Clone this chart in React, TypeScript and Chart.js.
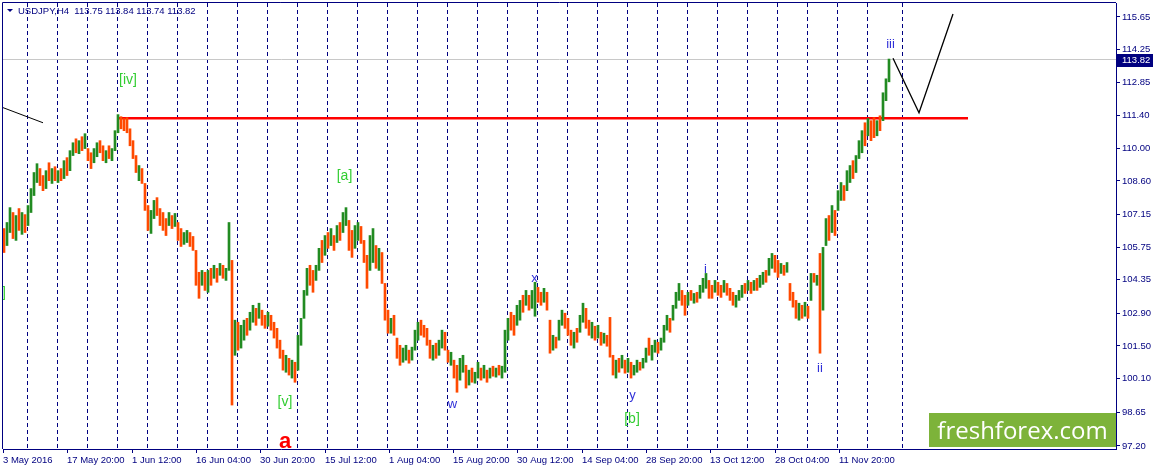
import React, { useEffect, useRef } from "react";
import { Chart, registerables } from "chart.js";

Chart.register(...registerables);

// ---------- data ----------
const SYMBOL = "USDJPY,H4";
const LAST_OHLC = [113.75, 113.84, 113.74, 113.82];
const LAST_PRICE = 113.82;
const BARS_PER_CANDLE = 3; // each drawn candle groups 3 H4 bars

const candleHigh = [
  106.55, 106.81, 107.45, 107.24, 107.11, 107.41, 107.24, 107.15, 107.54, 108.27,
  108.96, 109.34, 109.13, 108.83, 109.04, 109.38, 109.13, 109.21, 109.04, 109.13,
  109.47, 109.6, 109.9, 110.24, 110.41, 110.33, 110.5, 110.63, 109.99, 109.81,
  109.99, 110.24, 110.33, 110.11, 109.9, 110.11, 109.99, 110.76, 111.45, 111.36,
  111.28, 111.32, 110.84, 110.33, 109.69, 109.26, 109.13, 108.49, 107.54, 107.33,
  107.76, 107.88, 107.41, 107.24, 106.98, 107.24, 107.11, 107.2, 106.81, 106.55,
  106.38, 106.47, 106.38, 106.21, 105.61, 104.67, 104.75, 104.67, 104.75, 104.84,
  104.97, 104.84, 105.05, 104.97, 104.84, 106.81, 105.18, 102.61, 102.52, 102.39,
  102.61, 102.69, 102.95, 103.25, 103.12, 103.34, 103.04, 102.82, 102.95, 102.82,
  102.52, 102.26, 101.75, 101.32, 101.1, 100.97, 100.89, 100.8, 101.96, 102.69,
  103.89, 104.84, 104.97, 104.75, 104.97, 105.7, 106.04, 106.25, 106.38, 106.55,
  106.25, 106.68, 106.81, 107.24, 107.45, 106.9, 106.47, 106.68, 106.81, 106.64,
  106.04, 105.4, 106.25, 106.55, 105.82, 105.7, 105.52, 104.19, 103.04, 102.69,
  102.82, 101.84, 101.53, 101.41, 101.53, 101.32, 101.45, 102.18, 102.52, 102.61,
  102.39, 102.26, 101.75, 101.53, 101.62, 101.75, 102.18, 102.09, 101.32, 101.23,
  100.89, 100.67, 100.97, 101.1, 100.67, 100.46, 100.55, 100.37, 100.8, 100.55,
  100.67, 100.46, 100.55, 100.63, 100.55, 100.67, 100.63, 102.18, 102.69, 102.95,
  102.82, 103.25, 103.46, 103.68, 103.89, 103.68, 103.89, 104.24, 104.02, 103.81,
  103.98, 103.81, 102.61, 101.96, 101.88, 102.61, 103.04, 102.91, 102.69, 102.18,
  102.09, 102.26, 102.82, 103.34, 103.12, 102.61, 102.52, 102.35, 102.39, 102.09,
  102.05, 101.96, 102.73, 101.1, 100.89, 100.97, 101.1, 100.89, 100.97, 100.8,
  100.67, 100.89, 100.8, 100.97, 101.41, 101.84, 101.53, 101.75, 101.66, 101.84,
  102.39, 102.82, 102.69, 103.25, 103.81, 104.19, 103.89, 103.68, 103.81, 103.89,
  103.76, 103.81, 104.11, 104.41, 104.62, 104.32, 104.11, 104.32, 104.24, 104.11,
  104.32, 104.19, 103.98, 103.81, 103.68, 103.89, 104.11, 104.19, 104.32, 104.24,
  104.32, 104.41, 104.54, 104.67, 104.75, 105.27, 105.48, 105.4, 105.18, 105.05,
  104.97, 105.09, 104.19, 103.81, 103.46, 103.34, 103.25, 103.38, 103.21, 104.62,
  104.62, 104.54, 105.48, 105.74, 106.98, 107.11, 107.54, 107.33, 108.18, 108.53,
  108.4, 109.04, 109.26, 109.47, 109.69, 110.33, 110.76, 111.1, 111.28, 111.19,
  111.32, 111.19, 111.4, 112.39, 112.99, 113.84,
];

const candleLow = [
  105.52, 105.82, 106.38, 106.12, 106.04, 106.47, 106.3, 106.38, 106.68, 107.24,
  107.97, 108.53, 108.4, 108.18, 108.27, 108.61, 108.49, 108.61, 108.53, 108.61,
  108.7, 108.83, 109.04, 109.69, 109.81, 109.77, 109.9, 109.99, 109.47, 109.13,
  109.38, 109.64, 109.81, 109.47, 109.38, 109.56, 109.47, 109.9, 110.67, 110.84,
  110.76, 110.67, 110.11, 109.56, 108.96, 108.61, 108.49, 107.33, 106.47, 106.34,
  106.98, 107.11, 106.68, 106.47, 106.25, 106.68, 106.55, 106.64, 106.04, 105.78,
  105.87, 105.95, 105.78, 105.61, 104.11, 103.55, 104.11, 103.89, 103.81, 104.11,
  104.41, 104.24, 104.54, 104.41, 104.32, 104.75, 98.96, 101.1, 101.32, 101.41,
  101.75, 101.96, 102.18, 102.52, 102.39, 102.69, 102.39, 102.26, 102.35, 102.18,
  101.84, 101.41, 100.97, 100.46, 100.37, 100.25, 100.12, 99.94, 100.46, 101.53,
  102.69, 103.68, 104.11, 103.81, 104.32, 104.75, 105.09, 105.4, 105.7, 105.82,
  105.61, 105.95, 106.04, 106.38, 106.68, 105.61, 105.31, 105.7, 106.04, 105.91,
  105.09, 103.98, 104.75, 105.09, 104.84, 104.75, 104.19, 102.61, 102.05, 102.05,
  101.96, 100.97, 100.67, 100.8, 100.89, 100.76, 100.89, 101.32, 101.75, 101.96,
  101.88, 101.53, 100.97, 100.89, 100.97, 101.1, 101.41, 101.32, 100.8, 100.67,
  100.12, 99.51, 100.03, 100.37, 99.69, 99.82, 99.94, 99.9, 100.12, 100.03,
  100.12, 99.94, 100.12, 100.2, 100.16, 100.25, 100.12, 100.37, 101.75, 102.18,
  101.96, 102.39, 102.61, 102.95, 103.25, 103.04, 103.12, 102.78, 103.38, 103.25,
  103.38, 103.04, 101.19, 101.32, 101.41, 101.75, 102.39, 102.26, 101.96, 101.53,
  101.41, 101.66, 102.09, 102.52, 102.26, 101.96, 101.84, 101.75, 101.84, 101.53,
  101.62, 101.49, 101.02, 100.25, 100.12, 100.37, 100.55, 100.33, 100.37, 100.12,
  100.25, 100.37, 100.46, 100.55, 100.8, 101.1, 100.89, 101.23, 101.19, 101.32,
  101.66, 102.18, 102.09, 102.61, 103.12, 103.46, 103.25, 102.82, 103.25, 103.46,
  103.34, 103.38, 103.55, 103.81, 103.98, 103.55, 103.55, 103.81, 103.68, 103.59,
  103.81, 103.68, 103.46, 103.25, 103.17, 103.46, 103.59, 103.76, 103.89, 103.76,
  103.89, 103.89, 104.02, 104.15, 104.24, 104.54, 104.84, 104.67, 104.45, 104.62,
  104.54, 104.67, 103.46, 103.17, 102.69, 102.61, 102.69, 102.78, 102.69, 103.46,
  104.24, 104.11, 101.19, 103.04, 105.82, 106.04, 106.38, 106.25, 107.33, 107.76,
  107.76, 108.18, 108.53, 108.7, 108.96, 109.56, 109.81, 110.11, 110.54, 110.33,
  110.46, 110.54, 110.76, 111.19, 112.05, 112.86,
];

// G = bullish (green), O = bearish (orange)
const candleDir =
  "OGGOGOGOGG" + "GGOOGOGOGO" + "GOGGOGOGOO" + "GGOOGOGGGO" + "OOOOOGOOOG" +
  "GOOOOGOGOO" + "GGOOOOGOGO" + "GOGOGGOGOG" + "GOGGOGOOGO" + "OOOOGOGOGG" +
  "GGOOGGOGOG" + "OGOGGOOGGO" + "OOGGOGOOOG" + "OOOGGOGGGO" + "OOOGOGGOOG" +
  "OOGGOGOGGO" + "GOGOGOGGGO" + "OGGOGOGGOO" + "GOOGOGGOOO" + "GOGGOOGOGO" +
  "GOOOGOGOGO" + "GGOGGOGGOG" + "GGOGGGOOGO" + "GOGGGOOGOO" + "GOOOGGGOGO" +
  "GOGGOGGOOG" + "OGOOOGOGOG" + "OGOGGOGOGG" + "OGGOGGGOGO" + "OGOGGG";

const yTicks = [115.65, 114.25, 112.85, 111.4, 110.0, 108.6, 107.15, 105.75, 104.35, 102.9, 101.5, 100.1, 98.65, 97.2];
const xTickPos = [0, 64, 129, 193, 257, 322, 386, 450, 514, 579, 643, 707, 772, 836];
const xTickLabels = [
  "3 May 2016", "17 May 20:00", "1 Jun 12:00", "16 Jun 04:00", "30 Jun 20:00", "15 Jul 12:00",
  "1 Aug 04:00", "15 Aug 20:00", "30 Aug 12:00", "14 Sep 04:00", "28 Sep 20:00", "13 Oct 12:00",
  "28 Oct 04:00", "11 Nov 20:00",
];
const weekSeparators = [
  24, 54, 84, 114, 144, 174, 204, 234, 264, 294, 324, 354, 384, 414, 444, 474, 504, 534,
  564, 594, 624, 654, 684, 714, 744, 774, 804, 834, 864, 899,
];

const resistanceLine = [{ x: 116, y: 111.29 }, { x: 965, y: 111.29 }];
const projectionLine = [{ x: 890, y: 113.87 }, { x: 916, y: 111.53 }, { x: 950, y: 115.78 }];
const oldTrendLine = [{ x: 0, y: 111.75 }, { x: 40, y: 111.1 }];

const waveLabels = [
  { text: "[iv]", x: 125, y: 112.75, color: "#32cd32", size: 14, bold: false, align: "center" },
  { text: "[a]", x: 341.5, y: 108.64, color: "#32cd32", size: 14, bold: false, align: "center" },
  { text: "[v]", x: 282, y: 98.92, color: "#32cd32", size: 14, bold: false, align: "center" },
  { text: "[b]", x: 629, y: 98.2, color: "#32cd32", size: 14, bold: false, align: "center" },
  { text: "]", x: -1, y: 103.6, color: "#32cd32", size: 14, bold: false, align: "left" },
  { text: "a", x: 282, y: 97.12, color: "#ff0000", size: 22, bold: true, align: "center" },
  { text: "w", x: 449.5, y: 98.83, color: "#3030d8", size: 13, bold: false, align: "center" },
  { text: "x", x: 531.5, y: 104.24, color: "#3030d8", size: 13, bold: false, align: "center" },
  { text: "y", x: 629.5, y: 99.22, color: "#3030d8", size: 13, bold: false, align: "center" },
  { text: "i", x: 702.5, y: 104.66, color: "#3030d8", size: 13, bold: false, align: "center" },
  { text: "ii", x: 817, y: 100.37, color: "#3030d8", size: 13, bold: false, align: "center" },
  { text: "iii", x: 887.5, y: 114.32, color: "#3030d8", size: 13, bold: false, align: "center" },
];

// ---------- styling ----------
const NAVY = "#000080";
const GREEN = "#228b22";
const ORANGE = "#ff4a00";
const FONT = '"Liberation Sans", Arial, sans-serif';
const AXIS_FONT_SIZE = 9.5;

const decorPlugin = {
  id: "mt4decor",
  beforeDatasetsDraw(chart: any) {
    const { ctx, chartArea: a, scales } = chart;
    const x = scales.x;
    ctx.save();
    ctx.beginPath();
    ctx.rect(a.left, a.top, a.right - a.left, a.bottom - a.top);
    ctx.clip();
    ctx.strokeStyle = NAVY;
    ctx.lineWidth = 1;
    ctx.setLineDash([4, 3]);
    for (const s of weekSeparators) {
      const px = Math.round(x.getPixelForValue(s)) + 0.5;
      ctx.beginPath();
      ctx.moveTo(px, a.top);
      ctx.lineTo(px, a.bottom);
      ctx.stroke();
    }
    ctx.restore();
  },
  afterDatasetsDraw(chart: any) {
    const { ctx, scales } = chart;
    const x = scales.x;
    const y = scales.y;
    ctx.save();
    for (const l of waveLabels) {
      ctx.font = `${l.bold ? "bold " : ""}${l.size}px ${FONT}`;
      ctx.fillStyle = l.color;
      ctx.textAlign = l.align as CanvasTextAlign;
      ctx.textBaseline = "alphabetic";
      ctx.fillText(l.text, x.getPixelForValue(l.x), y.getPixelForValue(l.y));
    }
    ctx.restore();
  },
  afterDraw(chart: any) {
    const { ctx, chartArea: a, scales } = chart;
    const y = scales.y;
    ctx.save();
    // frame (left and top)
    ctx.strokeStyle = NAVY;
    ctx.lineWidth = 1;
    ctx.beginPath();
    ctx.moveTo(a.left - 0.5, a.bottom);
    ctx.lineTo(a.left - 0.5, a.top - 0.5);
    ctx.lineTo(a.right, a.top - 0.5);
    ctx.stroke();

    // header
    ctx.fillStyle = NAVY;
    ctx.beginPath();
    ctx.moveTo(7, 9);
    ctx.lineTo(13, 9);
    ctx.lineTo(10, 12);
    ctx.closePath();
    ctx.fill();
    ctx.font = `${AXIS_FONT_SIZE}px ${FONT}`;
    ctx.textAlign = "left";
    ctx.textBaseline = "alphabetic";
    ctx.fillText(`${SYMBOL}  ${LAST_OHLC.map((v) => v.toFixed(2)).join(" ")}`, 18, 14);

    // current price box
    const py = Math.round(y.getPixelForValue(LAST_PRICE));
    ctx.fillStyle = NAVY;
    ctx.fillRect(a.right + 1, py - 6, 36, 13);
    ctx.fillStyle = "#ffffff";
    ctx.textBaseline = "middle";
    ctx.fillText(LAST_PRICE.toFixed(2), a.right + 6, py + 0.5);

    // watermark
    ctx.fillStyle = "#7db33a";
    ctx.fillRect(929, 413, a.right - 929, 34);
    ctx.fillStyle = "#ffffff";
    ctx.font = `24px "Open Sans", "Noto Sans", sans-serif`;
    ctx.textAlign = "center";
    ctx.textBaseline = "alphabetic";
    ctx.fillText("freshforex.com", 929 + (a.right - 929) / 2, 439);
    ctx.restore();
  },
};

export default function App() {
  const canvasRef = useRef<HTMLCanvasElement | null>(null);

  useEffect(() => {
    const canvas = canvasRef.current;
    if (!canvas) return;
    const n = Math.min(candleHigh.length, candleLow.length, candleDir.length);
    const candles: any[] = [];
    const colors: string[] = [];
    for (let k = 0; k < n; k++) {
      candles.push({ x: k * BARS_PER_CANDLE + 1, y: [candleLow[k], candleHigh[k]] });
      colors.push(candleDir[k] === "G" ? GREEN : ORANGE);
    }
    const priceLine = [{ x: 0, y: LAST_PRICE }, { x: 1113, y: LAST_PRICE }];

    const chart = new Chart(canvas, {
      type: "bar",
      data: {
        datasets: [
          {
            type: "bar",
            data: candles,
            backgroundColor: colors,
            borderWidth: 0,
            barThickness: 2,
            grouped: false,
            order: 1,
          } as any,
          {
            type: "line",
            data: priceLine,
            borderColor: "#c8c8c8",
            borderWidth: 1,
            pointRadius: 0,
            order: 3,
          } as any,
          {
            type: "line",
            data: resistanceLine,
            borderColor: "#ff0000",
            borderWidth: 2.5,
            pointRadius: 0,
            order: 2,
          } as any,
          {
            type: "line",
            data: projectionLine,
            borderColor: "#000000",
            borderWidth: 1.3,
            pointRadius: 0,
            order: 0,
          } as any,
          {
            type: "line",
            data: oldTrendLine,
            borderColor: "#000000",
            borderWidth: 1,
            pointRadius: 0,
            order: 0,
          } as any,
        ],
      },
      options: {
        animation: false,
        responsive: false,
        events: [],
        layout: { padding: { left: 3, top: 3, right: 0, bottom: 0 } },
        plugins: { legend: { display: false }, tooltip: { enabled: false } },
        scales: {
          x: {
            type: "linear",
            min: 0,
            max: 1113,
            offset: false,
            position: "bottom",
            afterBuildTicks: (s: any) => {
              s.ticks = xTickPos.map((v) => ({ value: v }));
            },
            afterFit: (s: any) => {
              s.height = 21;
              s.paddingLeft = 0;
              s.paddingRight = 0;
            },
            ticks: {
              autoSkip: false,
              maxRotation: 0,
              minRotation: 0,
              align: "start",
              padding: 2,
              color: NAVY,
              font: { family: FONT, size: AXIS_FONT_SIZE },
              callback: (_v: any, i: number) => xTickLabels[i] ?? "",
            },
            grid: { drawOnChartArea: false, drawTicks: true, tickLength: 4, color: NAVY, offset: false },
            border: { display: true, color: NAVY, width: 1 },
          } as any,
          y: {
            type: "linear",
            position: "right",
            min: 97.07,
            max: 116.25,
            afterBuildTicks: (s: any) => {
              s.ticks = yTicks.map((v) => ({ value: v }));
            },
            afterFit: (s: any) => {
              s.width = 40;
              s.paddingTop = 0;
              s.paddingBottom = 0;
            },
            ticks: {
              autoSkip: false,
              padding: 2,
              color: NAVY,
              font: { family: FONT, size: AXIS_FONT_SIZE },
              callback: (v: any) => Number(v).toFixed(2),
            },
            grid: { drawOnChartArea: false, drawTicks: true, tickLength: 4, color: NAVY },
            border: { display: true, color: NAVY, width: 1 },
          } as any,
        },
      },
      plugins: [decorPlugin],
    });
    return () => chart.destroy();
  }, []);

  return (
    <div style={{ position: "fixed", left: 0, top: 0, width: 1156, height: 470, background: "#ffffff" }}>
      <canvas ref={canvasRef} width={1156} height={470} style={{ display: "block", width: 1156, height: 470 }} />
    </div>
  );
}
